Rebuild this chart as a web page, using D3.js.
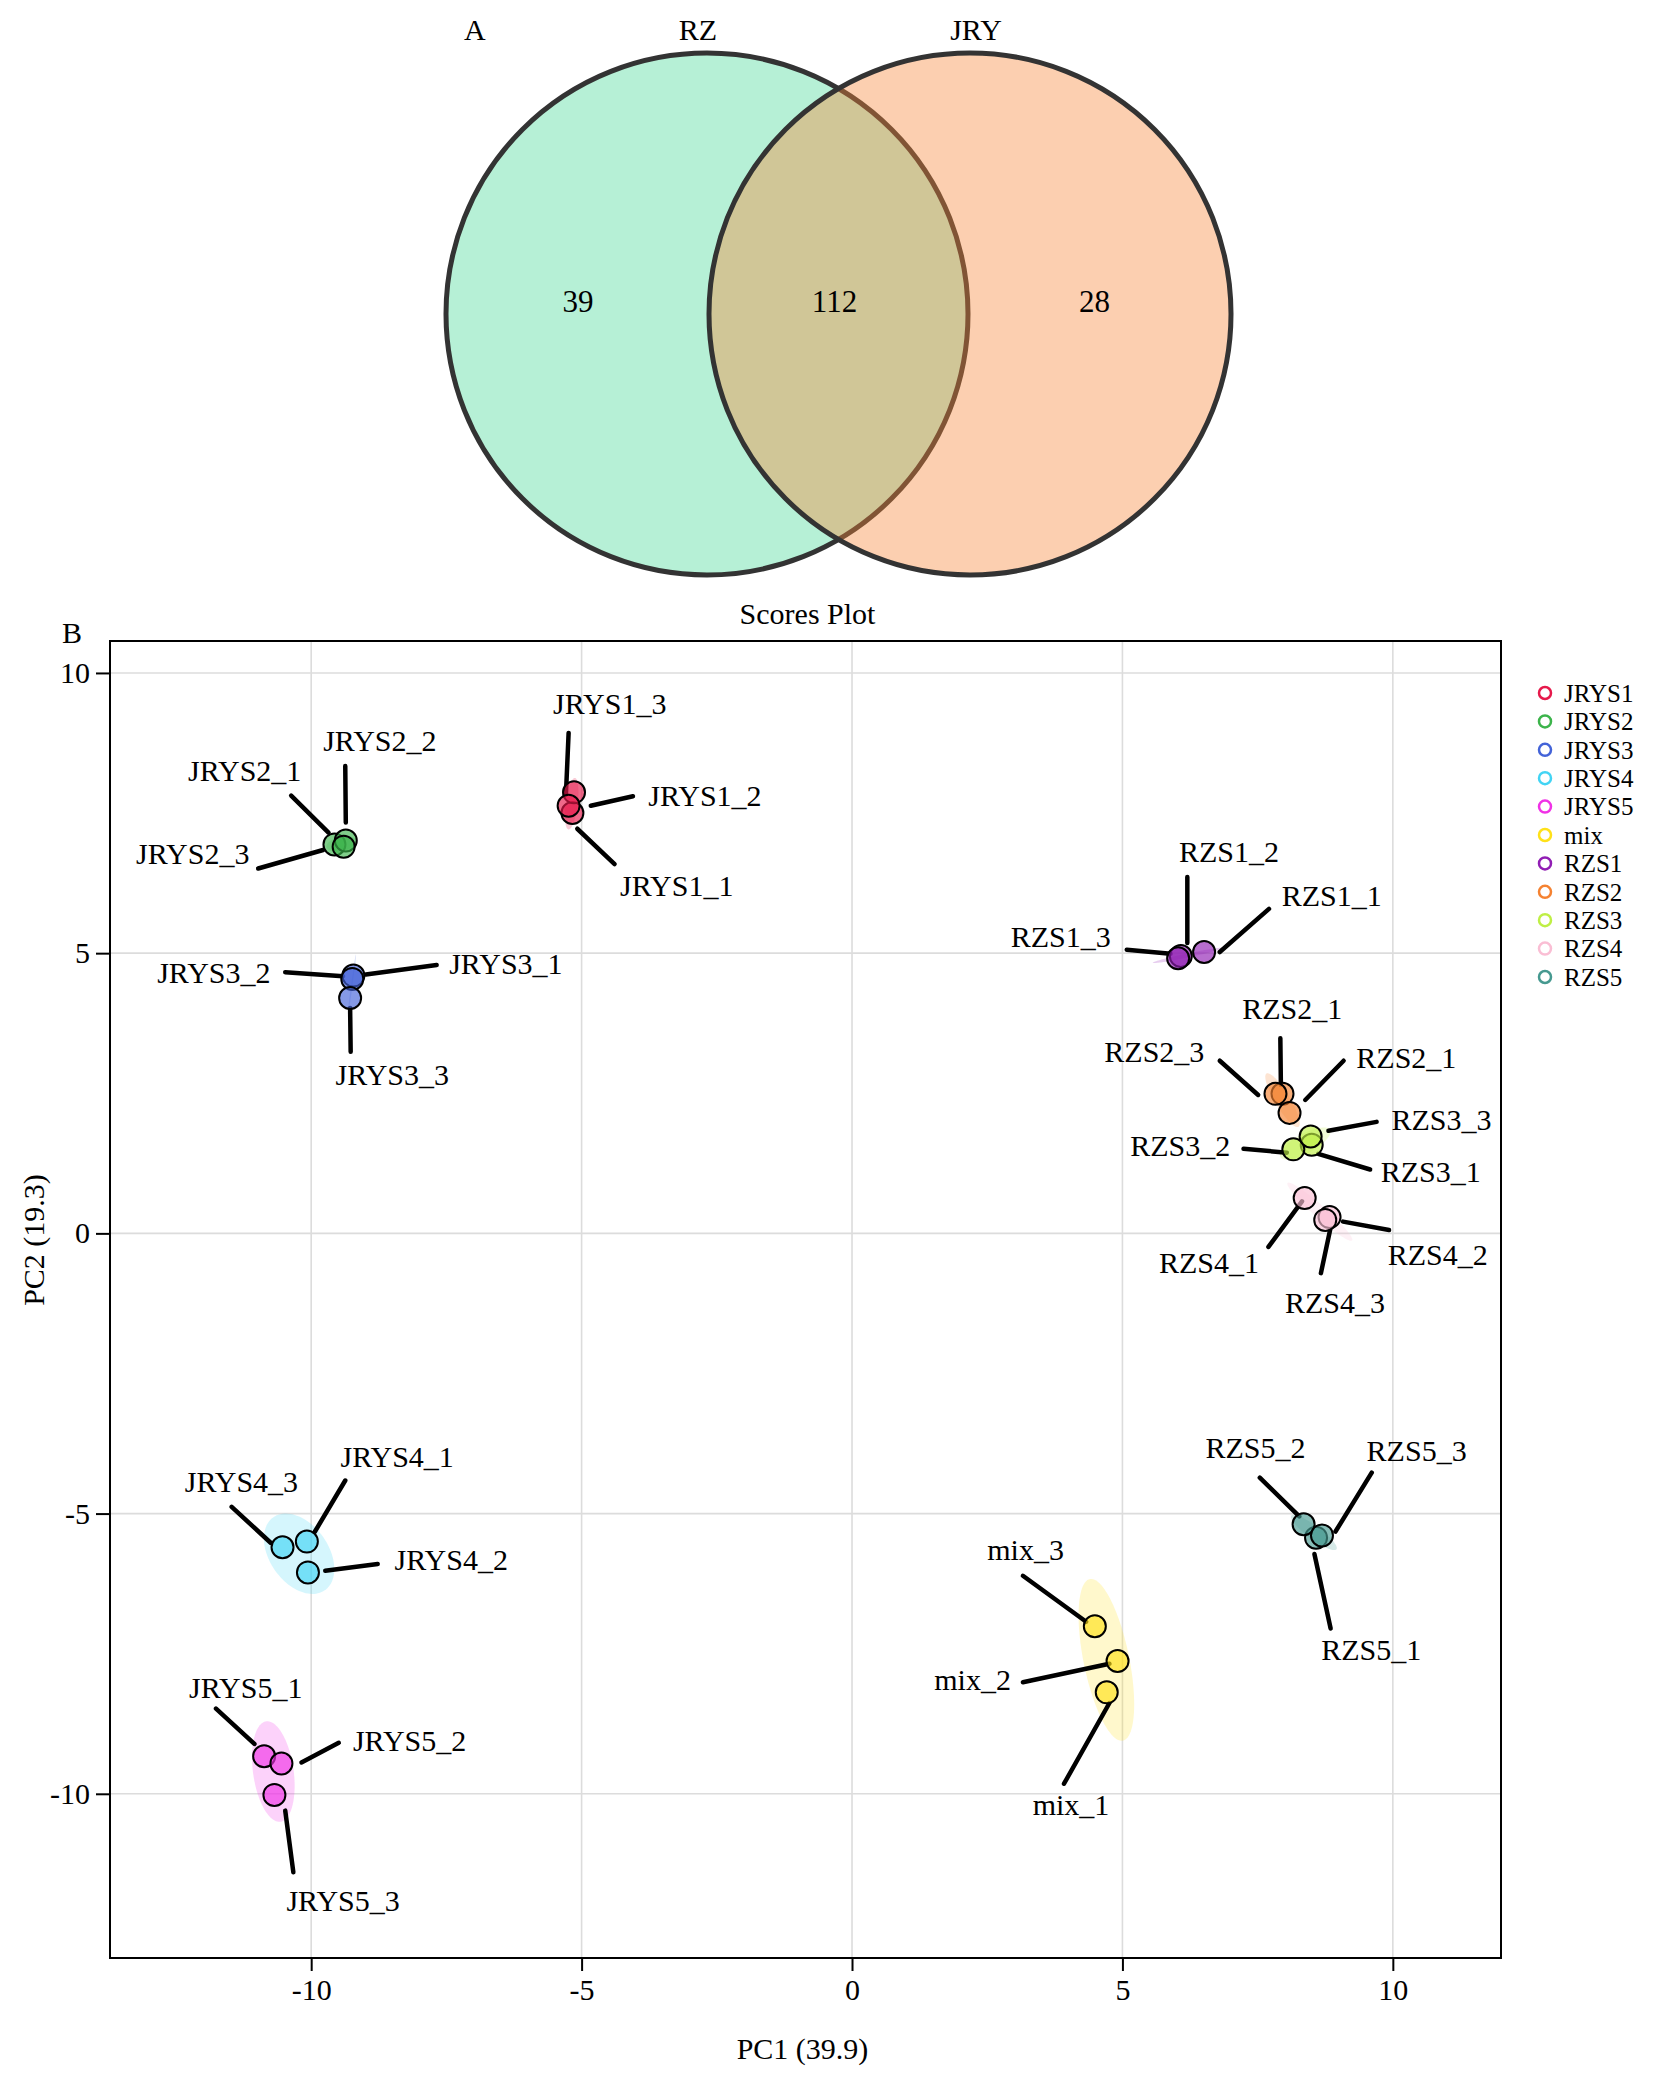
<!DOCTYPE html>
<html><head><meta charset="utf-8">
<script src="https://cdn.jsdelivr.net/npm/d3@7"></script>
<style>
body{margin:0;background:#fff;}
text{font-family:"Liberation Serif","Times New Roman",Times,serif;fill:#000;}
</style>
</head><body>
<svg id="chart" width="1676" height="2089"></svg>
<script>
// ---------- Venn data ----------
const vennSets = ["RZ", "JRY"];
const vennCounts = [39, 112, 28]; // RZ only, shared, JRY only

// ---------- PCA groups ----------
const groups = ["JRYS1","JRYS2","JRYS3","JRYS4","JRYS5","mix","RZS1","RZS2","RZS3","RZS4","RZS5"];
const groupColors = ["#e6194B","#3cb44b","#4363d8","#42d4f4","#f032e6","#ffe119","#911eb4","#f58231","#bfef45","#fabed4","#469990"];

// ---------- PCA samples ----------
const sampleNames = [
  "JRYS1_1","JRYS1_2","JRYS1_3",
  "JRYS2_1","JRYS2_2","JRYS2_3",
  "JRYS3_1","JRYS3_2","JRYS3_3",
  "JRYS4_1","JRYS4_2","JRYS4_3",
  "JRYS5_1","JRYS5_2","JRYS5_3",
  "mix_1","mix_2","mix_3",
  "RZS1_1","RZS1_2","RZS1_3",
  "RZS2_1","RZS2_1","RZS2_3",
  "RZS3_1","RZS3_2","RZS3_3",
  "RZS4_1","RZS4_2","RZS4_3",
  "RZS5_1","RZS5_2","RZS5_3"];
const sampleGroups = [
  "JRYS1","JRYS1","JRYS1","JRYS2","JRYS2","JRYS2","JRYS3","JRYS3","JRYS3",
  "JRYS4","JRYS4","JRYS4","JRYS5","JRYS5","JRYS5","mix","mix","mix",
  "RZS1","RZS1","RZS1","RZS2","RZS2","RZS2","RZS3","RZS3","RZS3",
  "RZS4","RZS4","RZS4","RZS5","RZS5","RZS5"];
const pc1 = [
  -5.17,-5.14,-5.24,
  -9.57,-9.36,-9.40,
  -9.22,-9.24,-9.28,
  -10.08,-10.06,-10.53,
  -10.87,-10.55,-10.68,
  4.71,4.91,4.49,
  6.51,6.08,6.03,
  7.96,8.09,7.83,
  8.50,8.16,8.48,
  8.37,8.83,8.75,
  8.58,8.35,8.69];
const pc2 = [
  7.50,7.87,7.63,
  6.94,7.01,6.90,
  4.60,4.54,4.20,
  -5.50,-6.05,-5.60,
  -9.33,-9.46,-10.02,
  -8.19,-7.63,-7.01,
  5.02,4.95,4.91,
  2.49,2.15,2.49,
  1.58,1.50,1.73,
  0.63,0.29,0.24,
  -5.43,-5.19,-5.39];
// repelled label anchors (PC units)
const labelPC1 = [
  -3.24,-2.72,-4.48,
  -11.23,-8.73,-12.19,
  -6.40,-11.80,-8.50,
  -8.41,-7.41,-11.29,
  -11.21,-8.18,-9.41,
  4.05,2.23,3.21,
  8.87,6.97,3.86,
  8.14,10.25,5.59,
  10.70,6.07,10.90,
  6.60,10.83,8.93,
  9.60,7.46,10.44];
const labelPC2 = [
  6.20,7.82,9.46,
  8.26,8.79,6.78,
  4.81,4.66,2.83,
  -3.98,-5.82,-4.43,
  -8.10,-9.05,-11.90,
  -10.19,-7.96,-5.64,
  6.03,6.82,5.29,
  4.01,3.14,3.24,
  1.10,1.56,2.03,
  -0.52,-0.37,-1.24,
  -7.42,-3.82,-3.88];
// leader segments: label end and point end (PC units)
const segFromPC1 = [
  -4.39,-4.05,-5.24,
  -10.37,-9.37,-10.98,
  -7.68,-10.48,-9.27,
  -9.37,-8.77,-11.47,
  -11.76,-9.49,-10.33,
  3.92,3.16,3.16,
  7.71,6.20,5.08,
  7.92,9.09,6.80,
  9.58,7.24,9.70,
  7.70,9.93,8.67,
  8.85,7.54,9.61];
const segFromPC2 = [
  6.59,7.80,8.93,
  7.81,8.34,6.51,
  4.79,4.66,3.24,
  -4.41,-5.90,-4.88,
  -8.48,-9.09,-11.40,
  -9.82,-8.01,-6.11,
  5.79,6.36,5.06,
  3.48,3.08,3.08,
  1.14,1.51,1.99,
  -0.24,0.06,-0.71,
  -7.05,-4.36,-4.27];
const segToPC1 = [
  -5.08,-4.83,-5.29,
  -9.68,-9.36,-9.78,
  -8.99,-9.41,-9.28,
  -9.93,-9.74,-10.75,
  -11.05,-10.18,-10.48,
  4.76,4.76,4.33,
  6.80,6.20,5.89,
  7.93,8.38,7.51,
  8.62,8.04,8.81,
  8.32,9.08,8.84,
  8.55,8.27,8.94];
const segToPC2 = [
  7.22,7.63,7.83,
  7.15,7.33,6.84,
  4.62,4.59,4.02,
  -5.32,-6.02,-5.52,
  -9.11,-9.44,-10.30,
  -8.38,-7.68,-6.93,
  5.02,5.18,4.99,
  2.65,2.38,2.47,
  1.42,1.44,1.83,
  0.57,0.21,0.06,
  -5.72,-5.05,-5.32];

const xTicks = [-10, -5, 0, 5, 10];
const yTicks = [-10, -5, 0, 5, 10];
const xDomain = [-13.72, 12.0];
const yDomain = [-12.93, 10.57];
const plotTitle = "Scores Plot";
const xTitle = "PC1 (39.9)";
const yTitle = "PC2 (19.3)";

// ================= drawing =================
const svg = d3.select("#chart");
const FS = 30;

// ---- Panel A: Venn ----
const venn = svg.append("g");
const vr = 261, vcy = 314;
const vcx = [707, 970];
venn.append("circle").attr("cx", vcx[0]).attr("cy", vcy).attr("r", vr)
  .attr("fill", "#b6f0d6").attr("stroke", "#333").attr("stroke-width", 5);
venn.append("circle").attr("cx", vcx[1]).attr("cy", vcy).attr("r", vr)
  .attr("fill", "rgba(247,135,58,0.4)").attr("stroke", "#333").attr("stroke-width", 5);
venn.append("text").attr("x", 464).attr("y", 40).attr("font-size", FS).text("A");
venn.selectAll("text.set").data(vennSets).enter().append("text").attr("class","set")
  .attr("x", (d,i) => [698, 976][i]).attr("y", 40).attr("text-anchor","middle")
  .attr("font-size", FS).text(d => d);
venn.selectAll("text.cnt").data(vennCounts).enter().append("text").attr("class","cnt")
  .attr("x", (d,i) => [578, 834.5, 1094.5][i]).attr("y", 312).attr("text-anchor","middle")
  .attr("font-size", 31).text(d => d);

// ---- Panel B: PCA scores ----
const L = 110, R = 1501, T = 641, B = 1958;
const x = d3.scaleLinear().domain(xDomain).range([L, R]);
const y = d3.scaleLinear().domain(yDomain).range([B, T]);
const color = d3.scaleOrdinal().domain(groups).range(groupColors);

const g = svg.append("g");
g.append("text").attr("x", 62).attr("y", 643).attr("font-size", FS).text("B");
g.append("text").attr("x", (L+R)/2 + 2).attr("y", 624).attr("text-anchor","middle")
  .attr("font-size", FS).text(plotTitle);

// grid
g.append("g").selectAll("line").data(xTicks).enter().append("line")
  .attr("x1", d => x(d)).attr("x2", d => x(d)).attr("y1", T).attr("y2", B)
  .attr("stroke", "#dcdcdc").attr("stroke-width", 1.6);
g.append("g").selectAll("line").data(yTicks).enter().append("line")
  .attr("y1", d => y(d)).attr("y2", d => y(d)).attr("x1", L).attr("x2", R)
  .attr("stroke", "#dcdcdc").attr("stroke-width", 1.6);

// axes
const xAxis = d3.axisBottom(x).tickValues(xTicks).tickSize(13).tickPadding(8).tickFormat(d => String(d));
const yAxis = d3.axisLeft(y).tickValues(yTicks).tickSize(14).tickPadding(6).tickFormat(d => String(d));
const gx = g.append("g").attr("transform", `translate(0,${B})`).call(xAxis);
const gy = g.append("g").attr("transform", `translate(${L},0)`).call(yAxis);
[gx, gy].forEach(a => {
  a.select(".domain").remove();
  a.selectAll(".tick line").attr("stroke", "#000").attr("stroke-width", 2);
  a.selectAll(".tick text").attr("font-size", FS).attr("fill", "#000")
    .attr("font-family", '"Liberation Serif","Times New Roman",serif');
});
gx.selectAll(".tick text").attr("dy", "0.71em");
g.append("rect").attr("x", L).attr("y", T).attr("width", R-L).attr("height", B-T)
  .attr("fill", "none").attr("stroke", "#000").attr("stroke-width", 2);

g.append("text").attr("x", (L+R)/2 - 3).attr("y", 2059).attr("text-anchor","middle")
  .attr("font-size", FS).text(xTitle);
g.append("text").attr("transform", "translate(33,1240) rotate(-90)").attr("text-anchor","middle")
  .attr("dy", "0.35em").attr("font-size", FS).text(yTitle);

// samples table
const samples = sampleNames.map((n,i) => ({
  name:n, group:sampleGroups[i], x:pc1[i], y:pc2[i], lx:labelPC1[i], ly:labelPC2[i],
  sx0:segFromPC1[i], sy0:segFromPC2[i], sx1:segToPC1[i], sy1:segToPC2[i]}));

// ellipses (95% normal, sample covariance)
const k = Math.sqrt(5.991464547);
const ellG = g.append("g");
groups.forEach(gr => {
  const pts = samples.filter(s => s.group === gr);
  const n = pts.length;
  const mx = d3.mean(pts, p => p.x), my = d3.mean(pts, p => p.y);
  let sxx = 0, syy = 0, sxy = 0;
  pts.forEach(p => { sxx += (p.x-mx)**2; syy += (p.y-my)**2; sxy += (p.x-mx)*(p.y-my); });
  sxx /= (n-1); syy /= (n-1); sxy /= (n-1);
  const a = Math.sqrt(sxx), b = a > 0 ? sxy / a : 0, c = Math.sqrt(Math.max(0, syy - b*b));
  const poly = d3.range(0, 101).map(i => {
    const t = i / 100 * 2 * Math.PI;
    const u = Math.cos(t), v = Math.sin(t);
    return [x(mx + k * a * u), y(my + k * (b * u + c * v))];
  });
  ellG.append("path").attr("d", d3.line()(poly) + "Z")
    .attr("fill", color(gr)).attr("fill-opacity", 0.22).attr("stroke", "none");
});

// leader segments
g.append("g").selectAll("line").data(samples).enter().append("line")
  .attr("x1", d => x(d.sx0)).attr("y1", d => y(d.sy0))
  .attr("x2", d => x(d.sx1)).attr("y2", d => y(d.sy1))
  .attr("stroke", "#000").attr("stroke-width", 4.5).attr("stroke-linecap", "round");

// points
const PR = 11;
g.append("g").selectAll("circle").data(samples).enter().append("circle")
  .attr("cx", d => x(d.x)).attr("cy", d => y(d.y)).attr("r", PR)
  .attr("fill", d => color(d.group)).attr("fill-opacity", 0.65)
  .attr("stroke", "#000").attr("stroke-width", 2);

// labels
g.append("g").selectAll("text").data(samples).enter().append("text")
  .attr("x", d => x(d.lx)).attr("y", d => y(d.ly)).attr("dy", "0.35em")
  .attr("text-anchor", "middle").attr("font-size", FS).text(d => d.name);

// legend
const lg = svg.append("g");
const items = lg.selectAll("g").data(groups).enter().append("g")
  .attr("transform", (d,i) => `translate(1545,${693 + i*28.4})`);
items.append("circle").attr("r", 6).attr("fill", "none")
  .attr("stroke", d => color(d)).attr("stroke-width", 2.5);
items.append("text").attr("x", 19).attr("dy", "0.35em").attr("font-size", 25).text(d => d);
</script>
</body></html>
